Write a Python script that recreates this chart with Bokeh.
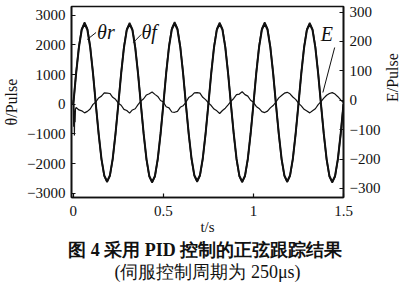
import math
from bokeh.plotting import figure
from bokeh.models import Range1d, LinearAxis, Label, FixedTicker, Arrow, Title
from bokeh.embed import file_html
from bokeh.resources import INLINE

# ---------------- data ----------------
# sampling step of the recorded curves: 1/64 s
t = [i / 64 for i in range(97)]

theta_r = [
    0, 1040, 1920, 2510, 2720, 2510, 1920, 1040, 0, -990, -1840, -2400, -2600, -2400, -1840, -990,
    0, 1030, 1910, 2500, 2700, 2500, 1910, 1030, 0, -1000, -1850, -2420, -2620, -2420, -1850, -1000,
    0, 1045, 1930, 2520, 2730, 2520, 1930, 1045, 0, -990, -1830, -2390, -2590, -2390, -1830, -990,
    0, 1035, 1915, 2505, 2710, 2505, 1915, 1035, 0, -995, -1845, -2410, -2610, -2410, -1845, -995,
    0, 1040, 1920, 2510, 2720, 2510, 1920, 1040, 0, -990, -1840, -2400, -2600, -2400, -1840, -990,
    0, 1030, 1910, 2500, 2700, 2500, 1910, 1030, 0, -1000, -1850, -2420, -2620, -2420, -1850, -1000,
    0,
]

theta_f = [
    0, 1065, 1953, 2546, 2763, 2548, 1950, 1054, 6, -998, -1854, -2425, -2624, -2423, -1850, -993,
    10, 1047, 1941, 2535, 2744, 2533, 1939, 1045, 3, -1005, -1868, -2442, -2648, -2440, -1863, -999,
    6, 1067, 1956, 2560, 2771, 2558, 1954, 1064, 7, -999, -1845, -2415, -2616, -2414, -1840, -992,
    9, 1053, 1945, 2541, 2755, 2540, 1942, 1051, 4, -1001, -1864, -2431, -2639, -2429, -1859, -995,
    7, 1061, 1948, 2549, 2762, 2547, 1946, 1058, 6, -998, -1856, -2424, -2627, -2422, -1851, -993,
    10, 1049, 1941, 2537, 2743, 2536, 1939, 1045, 5, -1007, -1867, -2443, -2646, -2441, -1862, -1001,
    8,
]

# error E: start-up transient, then the recorded samples at t[1:]
e_t_start = [0.0, 0.002, 0.004, 0.006, 0.008, 0.010, 0.012]
e_v_start = [0, -90, -15, -120, -35, -75, -30]
e_v_rest = [
    -25, -33, -36, -43, -38, -30, -14, -6, 8, 14, 25, 24, 23, 10, 3,
    -10, -17, -31, -35, -44, -33, -29, -15, -3, 5, 18, 22, 28, 20, 13, -1,
    -6, -22, -26, -40, -41, -38, -24, -19, -7, 9, 15, 25, 26, 24, 10, 2,
    -9, -18, -30, -36, -45, -35, -27, -16, -4, 6, 19, 21, 29, 19, 14, 0,
    -7, -21, -28, -39, -42, -37, -26, -18, -6, 8, 16, 24, 27, 22, 11, 3,
    -10, -19, -31, -37, -43, -36, -29, -15, -5, 7, 17, 23, 26, 21, 12, 1,
    -8,
]
e_t = e_t_start + t[1:]
e_v = e_v_start + e_v_rest

x_ticks = [0, 0.5, 1, 1.5]
x_tick_labels = ["0", "0.5", "1", "1.5"]
left_ticks = [-3000, -2000, -1000, 0, 1000, 2000, 3000]
left_tick_labels = ["\u22123000", "\u22122000", "\u22121000", "0", "1000", "2000", "3000"]
right_ticks = [-300, -200, -100, 0, 100, 200, 300]
right_tick_labels = ["\u2212300", "\u2212200", "\u2212100", "0", "100", "200", "300"]

x_title = "t/s"
left_title = "θ/Pulse"
right_title = "E/Pulse"
caption1 = "图 4  采用 PID 控制的正弦跟踪结果"
caption2 = "(伺服控制周期为 250μs)"

# ---------------- layout ----------------
W, H = 412, 284
FX0, FX1, FY0, FY1 = 69, 346, 6, 197
X0, X1 = -0.01, 1.5
YL0, YL1 = -3145, 3295
YR0, YR1 = -331, 319

def dx(px):
    return X0 + (px - FX0) * (X1 - X0) / (FX1 - FX0)

def dy(py):
    return YL1 - (py - FY0) * (YL1 - YL0) / (FY1 - FY0)

SERIF = "Liberation Serif"
INK = "#111111"

p = figure(width=W, height=H, output_backend="svg", toolbar_location=None,
           title=None,
           x_range=Range1d(X0, X1), y_range=Range1d(YL0, YL1),
           min_border_left=FX0, min_border_right=W - FX1,
           min_border_top=FY0, min_border_bottom=H - FY1)
p.background_fill_color = "white"
p.border_fill_color = "white"
p.outline_line_color = INK
p.outline_line_width = 1.6
p.outline_line_alpha = 1.0
p.xgrid.visible = False
p.ygrid.visible = False

p.extra_y_ranges = {"E": Range1d(YR0, YR1)}
raxis = LinearAxis(y_range_name="E")
p.add_layout(raxis, "right")

p.xaxis.ticker = FixedTicker(ticks=x_ticks)
p.xaxis.major_label_overrides = dict(zip(x_ticks, x_tick_labels))
p.yaxis[0].ticker = FixedTicker(ticks=left_ticks)
p.yaxis[0].major_label_overrides = dict(zip(left_ticks, left_tick_labels))
raxis.ticker = FixedTicker(ticks=right_ticks)
raxis.major_label_overrides = dict(zip(right_ticks, right_tick_labels))

for ax in [p.xaxis[0], p.yaxis[0], raxis]:
    ax.axis_line_color = INK
    ax.axis_line_width = 1.6
    ax.major_tick_in = 4
    ax.major_tick_out = 0
    ax.minor_tick_in = 0
    ax.minor_tick_out = 0
    ax.major_tick_line_color = INK
    ax.major_tick_line_width = 1.2
    ax.major_label_text_font = SERIF
    ax.major_label_text_font_size = "15px"
    ax.major_label_text_color = INK
    ax.axis_label_text_font = SERIF
    ax.axis_label_text_font_size = "16px"
    ax.axis_label_text_font_style = "normal"
    ax.axis_label_text_color = INK

p.xaxis.major_label_standoff = 8
p.yaxis[0].major_label_standoff = 6
raxis.major_label_standoff = 6

p.xaxis.axis_label = x_title
p.xaxis.axis_label_standoff = 0
p.xaxis.axis_label_text_font_size = "15px"
p.yaxis[0].axis_label = left_title
p.yaxis[0].axis_label_standoff = 4
raxis.axis_label = right_title
raxis.axis_label_standoff = 9
try:
    raxis.axis_label_orientation = math.pi / 2
except Exception:
    pass

# captions below the axis (serif metrics; CJK glyphs fall back to the CJK font)
p.add_layout(Title(text=caption1, align="center", text_font=SERIF, text_font_size="18px",
                   text_font_style="bold", text_color=INK, standoff=0, offset=4), "below")
p.add_layout(Title(text=caption2, align="center", text_font=SERIF, text_font_size="18px",
                   text_font_style="normal", text_color=INK, standoff=0, offset=0), "below")

# curves
p.line(t, theta_r, line_color=INK, line_width=2.0)
p.line(t, theta_f, line_color=INK, line_width=1.6)
p.line(e_t, e_v, y_range_name="E", line_color=INK, line_width=1.2)

# curve labels and leader lines
def lab(text, px, py, size="20px", style="italic"):
    p.add_layout(Label(x=dx(px), y=dy(py), text=text, text_font=SERIF,
                       text_font_size=size, text_font_style=style,
                       text_align="center", text_baseline="middle",
                       text_color=INK))

lab("θr", 104, 31)
lab("θf", 148, 31)
lab("E", 329, 33)

for (a, b, c, d) in [(85, 39, 94, 32), (132, 42, 140, 34), (337, 47, 325, 92)]:
    p.add_layout(Arrow(end=None, x_start=dx(a), y_start=dy(b), x_end=dx(c), y_end=dy(d),
                       line_color=INK, line_width=1.0))

open("out.html", "w").write(file_html(p, INLINE))
